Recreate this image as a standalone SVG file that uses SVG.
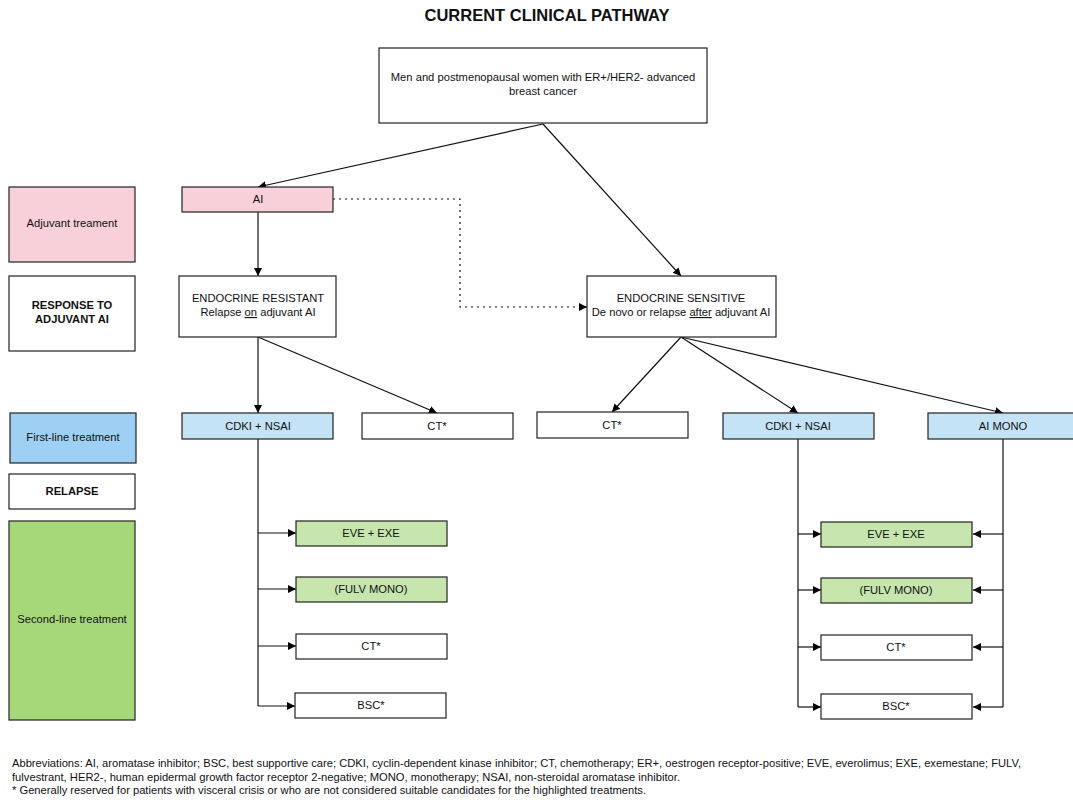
<svg xmlns="http://www.w3.org/2000/svg" width="1073" height="800" viewBox="0 0 1073 800">
<defs>
<marker id="ah" viewBox="0 0 10 10" refX="10" refY="5" markerWidth="8" markerHeight="8" markerUnits="userSpaceOnUse" orient="auto">
<path d="M0,0 L10,5 L0,10 z" fill="#000"/>
</marker>
</defs>
<style>
text{font-family:"Liberation Sans",Arial,sans-serif;font-size:11.2px;fill:#111;text-anchor:middle}
.b{font-weight:bold}
rect{stroke:#222;stroke-width:1.2}
.bg{fill:#fff;stroke:none}
.w{fill:#fff}
.pk{fill:#f8d0da}
.lb{fill:#c4e3f6}
.db{fill:#9dd0f2}
.gr{fill:#a6d879}
.lg{fill:#c6e6ae}
.c{fill:none;stroke:#111;stroke-width:1.2}
.c.a{marker-end:url(#ah)}
.d{stroke-dasharray:2,4}
.foot{text-anchor:start;font-size:11px}
</style>
<rect class="bg" width="1073" height="800"/>
<text class="b" x="547" y="21" style="font-size:16.5px">CURRENT CLINICAL PATHWAY</text>

<g id="connectors">
<path class="c a" d="M543,124 L258,187"/>
<path class="c a" d="M543,124 L681,276"/>
<path class="c a" d="M258,212 L258,276"/>
<path class="c a d" d="M333,199 L460,199 L460,307 L587,307"/>
<path class="c a" d="M258,337 L258,413"/>
<path class="c a" d="M258,337 L437,413"/>
<path class="c a" d="M681,337 L612,412"/>
<path class="c a" d="M681,337 L798,413"/>
<path class="c a" d="M681,337 L1003,413"/>
<path class="c" d="M258,439 L258,706"/>
<path class="c a" d="M258,533 L296,533"/>
<path class="c a" d="M258,589 L296,589"/>
<path class="c a" d="M258,646 L296,646"/>
<path class="c a" d="M258,706 L295,706"/>
<path class="c" d="M798,439 L798,707"/>
<path class="c a" d="M798,534 L821,534"/>
<path class="c a" d="M798,590 L821,590"/>
<path class="c a" d="M798,647 L821,647"/>
<path class="c a" d="M798,707 L821,707"/>
<path class="c" d="M1003,439 L1003,707"/>
<path class="c a" d="M1003,534 L973,534"/>
<path class="c a" d="M1003,590 L973,590"/>
<path class="c a" d="M1003,647 L973,647"/>
<path class="c a" d="M1003,707 L973,707"/>
</g>

<g id="top"><rect class="w" x="379" y="48" width="328" height="75"/>
<text x="543" y="81">Men and postmenopausal women with ER+/HER2- advanced</text>
<text x="543" y="95">breast cancer</text></g>

<g id="lbl-adjuvant"><rect class="pk" x="9" y="187" width="126" height="75"/><text x="72" y="227">Adjuvant treament</text></g>
<g id="lbl-response"><rect class="w" x="9" y="276" width="126" height="75"/><text class="b" x="72" y="309">RESPONSE TO</text><text class="b" x="72" y="323">ADJUVANT AI</text></g>
<g id="lbl-first"><rect class="db" x="10" y="413" width="126" height="50"/><text x="73" y="441">First-line treatment</text></g>
<g id="lbl-relapse"><rect class="w" x="9" y="474" width="126" height="35"/><text class="b" x="72" y="495">RELAPSE</text></g>
<g id="lbl-second"><rect class="gr" x="9" y="521" width="126" height="199"/><text x="72" y="623">Second-line treatment</text></g>

<g id="ai"><rect class="pk" x="182" y="187" width="151" height="25"/><text x="258" y="203">AI</text></g>
<g id="resistant"><rect class="w" x="179" y="276" width="157" height="61"/><text x="258" y="302">ENDOCRINE RESISTANT</text><text x="258" y="316">Relapse <tspan text-decoration="underline">on</tspan> adjuvant AI</text></g>
<g id="sensitive"><rect class="w" x="587" y="276" width="189" height="61"/><text x="681" y="302">ENDOCRINE SENSITIVE</text><text x="681" y="316">De novo or relapse <tspan text-decoration="underline">after</tspan> adjuvant AI</text></g>

<g id="cdki-l"><rect class="lb" x="182" y="413" width="151" height="26"/><text x="258" y="430">CDKI + NSAI</text></g>
<g id="ct-l"><rect class="w" x="362" y="413" width="151" height="26"/><text x="437" y="430">CT*</text></g>
<g id="ct-m"><rect class="w" x="537" y="412" width="151" height="26"/><text x="612" y="429">CT*</text></g>
<g id="cdki-r"><rect class="lb" x="723" y="413" width="151" height="26"/><text x="798" y="430">CDKI + NSAI</text></g>
<g id="aimono"><rect class="lb" x="928" y="413" width="151" height="26"/><text x="1003" y="430">AI MONO</text></g>

<g id="eve-l"><rect class="lg" x="296" y="521" width="151" height="25"/><text x="371" y="537">EVE + EXE</text></g>
<g id="fulv-l"><rect class="lg" x="296" y="577" width="151" height="25"/><text x="371" y="593">(FULV MONO)</text></g>
<g id="ct2-l"><rect class="w" x="296" y="634" width="151" height="25"/><text x="371" y="650">CT*</text></g>
<g id="bsc-l"><rect class="w" x="295" y="693" width="151" height="25"/><text x="371" y="709">BSC*</text></g>

<g id="eve-r"><rect class="lg" x="821" y="522" width="151" height="25"/><text x="896" y="538">EVE + EXE</text></g>
<g id="fulv-r"><rect class="lg" x="821" y="578" width="151" height="25"/><text x="896" y="594">(FULV MONO)</text></g>
<g id="ct2-r"><rect class="w" x="821" y="635" width="151" height="25"/><text x="896" y="651">CT*</text></g>
<g id="bsc-r"><rect class="w" x="821" y="694" width="151" height="25"/><text x="896" y="710">BSC*</text></g>

<g id="footnote">
<text class="foot" x="12" y="767" textLength="1009" lengthAdjust="spacingAndGlyphs">Abbreviations: AI, aromatase inhibitor; BSC, best supportive care; CDKI, cyclin-dependent kinase inhibitor; CT, chemotherapy; ER+, oestrogen receptor-positive; EVE, everolimus; EXE, exemestane; FULV,</text>
<text class="foot" x="12" y="781" textLength="668" lengthAdjust="spacingAndGlyphs">fulvestrant, HER2-, human epidermal growth factor receptor 2-negative; MONO, monotherapy; NSAI, non-steroidal aromatase inhibitor.</text>
<text class="foot" x="12" y="794" textLength="634" lengthAdjust="spacingAndGlyphs">* Generally reserved for patients with visceral crisis or who are not considered suitable candidates for the highlighted treatments.</text>
</g>
</svg>
